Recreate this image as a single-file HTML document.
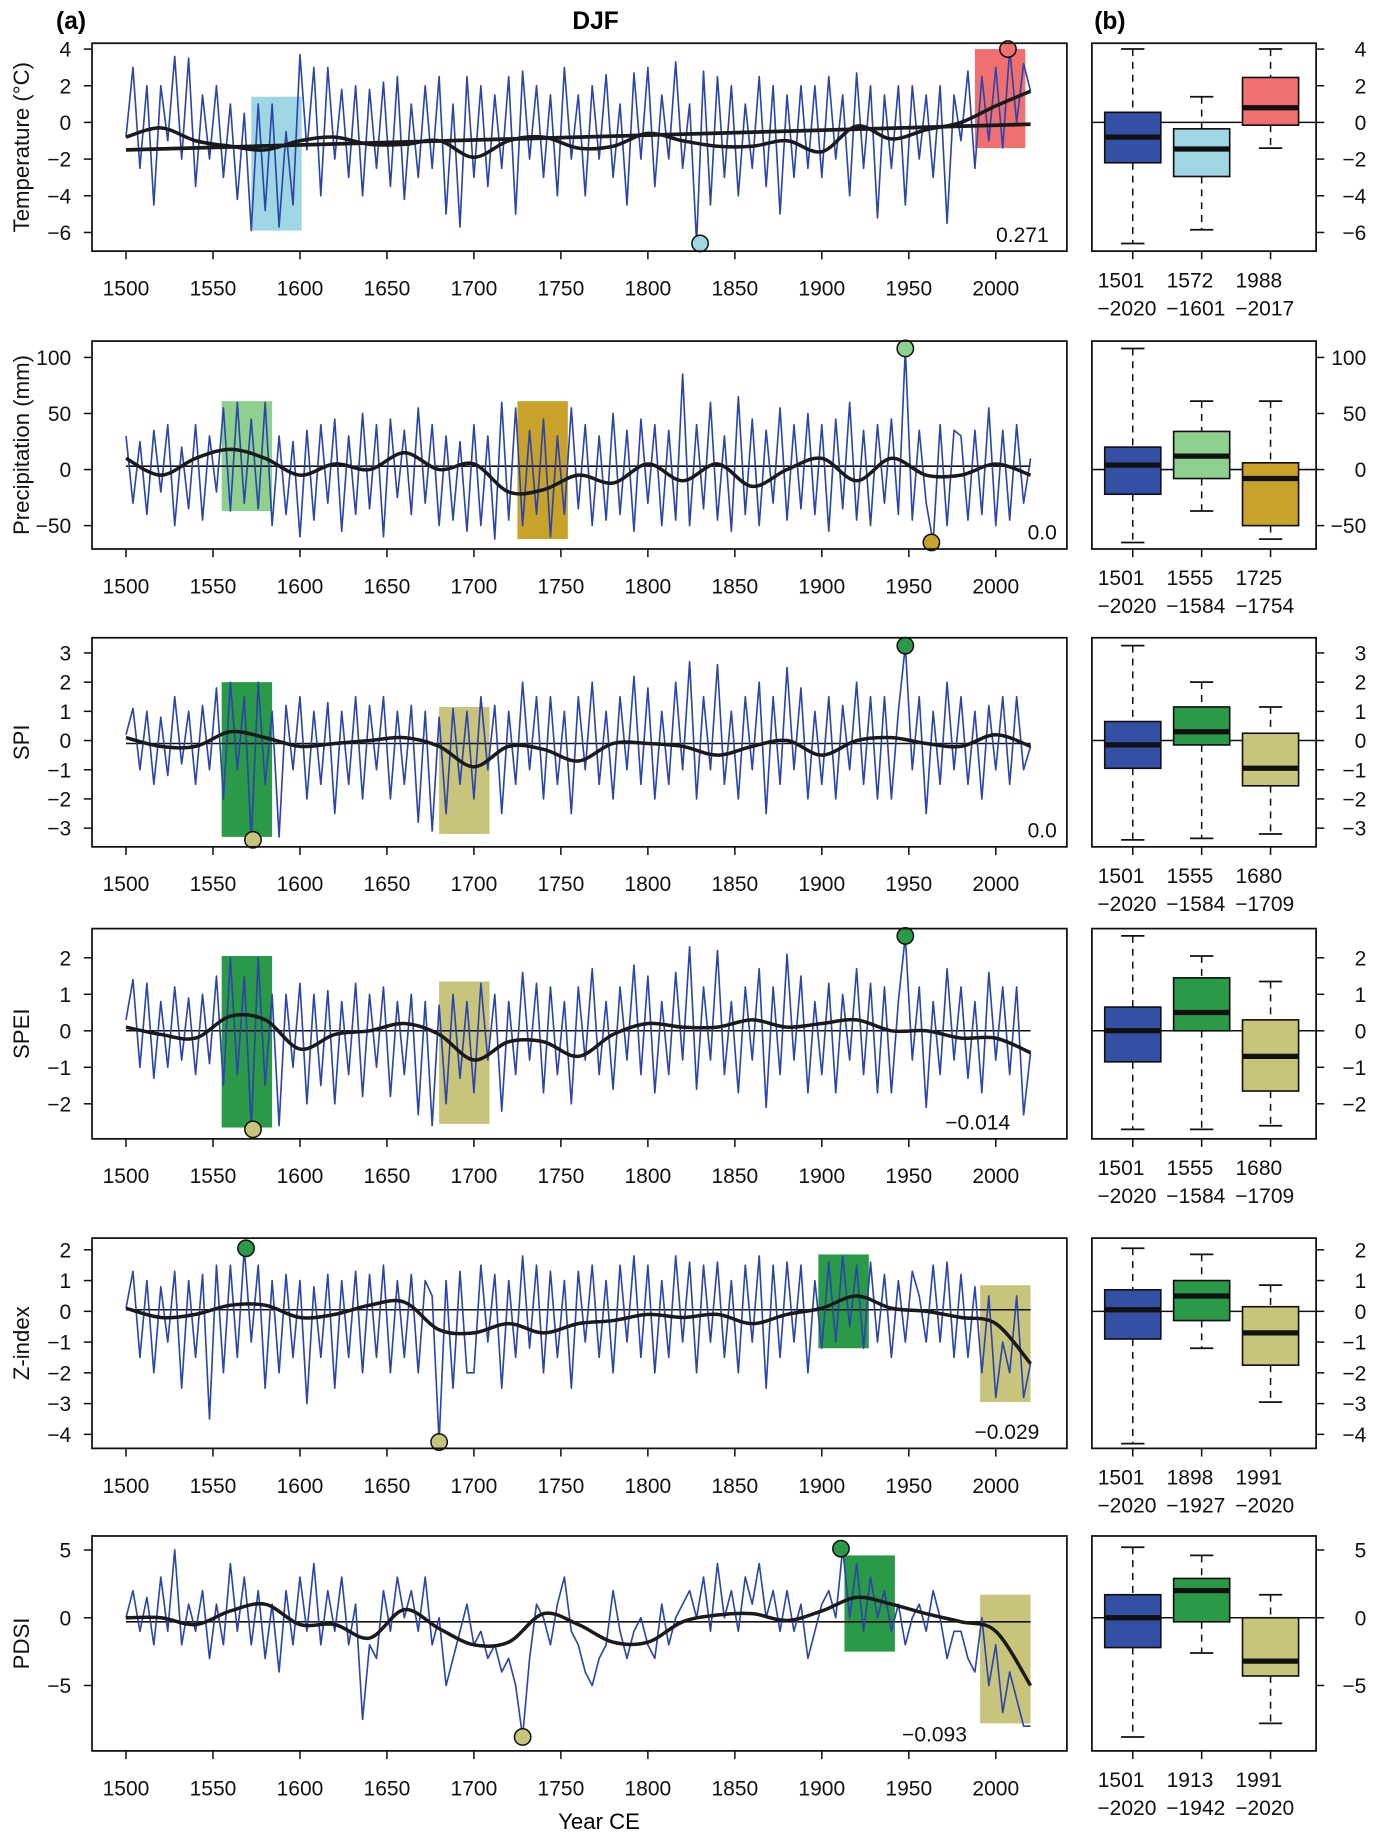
<!DOCTYPE html>
<html><head><meta charset="utf-8"><style>
html,body{margin:0;padding:0;background:#fff;}
svg{display:block;font-family:"Liberation Sans",Arial,sans-serif;}
</style></head><body>
<svg id="fig" xmlns="http://www.w3.org/2000/svg" width="1378" height="1835" viewBox="0 0 1180 1571" preserveAspectRatio="none">
<text x="48" y="25" font-size="21" font-weight="bold">(a)</text>
<text x="510" y="25" font-size="21" font-weight="bold" text-anchor="middle">DJF</text>
<text x="937" y="25" font-size="21" font-weight="bold">(b)</text>
<text x="513" y="1566" font-size="19" text-anchor="middle">Year CE</text>
</svg>
<script>
// ---------- data ----------
const years = [1500,1550,1600,1650,1700,1750,1800,1850,1900,1950,2000];
const tempSeries = [-0.8,3,-2.5,2,-4.5,2,-1,3.6,-2,3.5, -3.5,1.5,-2,2,-3,1,-4.2,0.5,-5.9,1, -4.8,1,-5.7,-0.5,-4.5,3.7,-1.5,3,-4,3, -2,1.8,-3,2,-4,1.8,-2.5,2.2,-3.5,2.5, -4.2,1,-3,2,-2.5,2.5,-5,1,-5.7,2.5, -3,2,-3.5,1.5,-2.5,2.5,-5,2.8,-2,2, -3,1.5,-4,3,-2,1.5,-4,2,-2,2.6, -3,1,-4.5,2.7,-2,3,-3.5,1.5,-2,3.3, -2.5,1,-6.6,2.8,-4.5,2.5,-3,2,-4,1, -2.5,2.5,-3.5,2,-5,1.5,-3,2,-2.5,2, -3,2.5,-2,1.5,-4,2.7,-2.5,2,-5.2,1.5, -2.5,2,-4.5,2,-2,1.5,-3,2,-5.5,1.5, -1,2.8,-2.5,2.5,-1,3,-1.4,4,0,3.2, 1.7];
const tempSmooth = [-0.8,-0.3,-1.0,-1.3,-1.5,-1.0,-0.8,-1.2,-1.2,-1.0,-1.9,-1.0,-0.8,-1.4,-1.3,-0.6,-1.0,-1.3,-1.3,-1.0,-1.6,-0.2,-0.9,-0.4,0.0,0.9,1.7];
const tempTrend = [-1.5,-0.1];
const precSeries = [30,-30,25,-40,35,-20,40,-50,20,-35, 40,-45,30,-20,55,-37,60,-30,45,-35, 60,-50,30,-40,25,-60,35,-45,40,-30, 45,-55,30,-40,50,-35,40,-60,45,-25, 35,-40,55,-30,40,-50,30,-45,25,-55, 40,-50,30,-62,60,-45,55,-50,35,-40, 45,-60,30,-40,55,-35,40,-50,30,-45, 50,-40,35,-55,45,-30,40,-50,35,-45, 85,-50,40,-35,60,-45,30,-55,65,-40, 45,-50,35,-30,55,-45,40,-35,50,-40, 40,-55,45,-35,60,-45,35,-50,40,-30, 45,-40,108,-45,35,-30,-65,40,-50,35, 30,-45,35,-40,55,-50,35,-45,40,-30, 10];
const precSmooth = [10,-5,10,18,10,-5,5,0,15,0,5,-20,-18,-5,-12,5,-10,5,-15,0,10,-10,10,-5,-5,5,-5];
const spiSeries = [0.2,1.1,-1,1,-1.5,0.8,-1.2,1.5,-0.8,1, -1.5,1.2,-1,1.8,-2,2,-1,1.5,-3.4,2, -1.5,1,-3.3,1.2,-1,1.5,-2,1,-1.5,1.3, -2.5,1,-1.5,1.5,-2,1.2,-1,1.5,-2,1, -1.5,1.2,-2.8,1,-3.1,0.8,-2.5,1.1,-1.5,1, -2,1.5,-1,1.2,-2.5,1,-1.5,2,-1,1.5, -2,1.5,-1.5,1,-2.5,1.5,-1,2,-1.5,1, -2,1.5,-1,2.2,-1.5,1.8,-2,1,-1.5,2, -1,2.7,-2,1.5,-1,2.6,-1.5,1,-2,1.5, -1,2,-2.5,1.5,-1.5,2.5,-1,1.8,-2,1, -1.5,1.5,-2,1.2,-1,2,-1.5,1.5,-2,1.5, -2,1,3.25,-1,1.5,-2.5,1,-1.5,2,-1, 1.5,-1.5,1,-2,1.2,-1,1.5,-1.5,1.5,-1, -0.2];
const spiSmooth = [0.1,-0.2,-0.2,0.3,0.1,-0.2,-0.1,0,0.1,-0.2,-0.9,-0.2,-0.3,-0.7,-0.1,-0.1,-0.2,-0.5,-0.2,0,-0.5,0,0.1,-0.1,-0.2,0.2,-0.2];
const speiSeries = [0.3,1.4,-1,1.3,-1.3,0.8,-1,1.2,-0.8,0.9, -1.2,1,-0.9,1.5,-1.5,2,-1.2,1.5,-2.7,2, -1.5,1,-2.6,1,-1,1.3,-2,1,-1.5,1.1, -2,0.8,-1.2,1.3,-1.8,1,-1,1.2,-1.8,0.8, -1.2,1,-2.3,0.8,-2.6,0.7,-2,1,-1.3,0.8, -1.7,1.3,-0.8,1,-2.2,0.8,-1.2,1.6,-0.8,1.3, -1.7,1.2,-1.2,0.8,-2,1.2,-0.8,1.7,-1.2,0.8, -1.6,1.2,-0.8,1.8,-1.2,1.5,-1.7,0.8,-1.2,1.6, -0.8,2.3,-1.6,1.2,-0.8,2.2,-1.2,0.8,-1.7,1.2, -0.8,1.7,-2.1,1.2,-1.2,2.1,-0.8,1.5,-1.7,0.8, -1.2,1.3,-1.7,1,-0.8,1.7,-1.2,1.3,-1.7,1.2, -1.7,0.8,2.6,-0.8,1.2,-2.1,0.8,-1.2,1.7,-0.8, 1.2,-1.3,0.8,-1.7,1.6,-0.8,1.2,-1.2,1.2,-2.3, -0.6];
const speiSmooth = [0.1,-0.1,-0.2,0.4,0.3,-0.5,-0.1,0,0.2,-0.1,-0.8,-0.3,-0.3,-0.7,-0.1,0.2,0.1,0.1,0.3,0.1,0.2,0.3,0,0,-0.2,-0.2,-0.6];
const zSeries = [0.1,1.3,-1.5,1,-2,0.8,-1,1.3,-2.5,1, -1.5,1.2,-3.5,1.5,-2,1.5,-1.5,2.05,-1,1.5, -2.5,1,-2,1.2,-1.5,1,-3,0.8,-1.5,1.2, -2.5,1,-1.5,1.3,-2,1.2,-1.5,1.5,-2,1, -1.5,1.2,-2,1,0.5,-4.25,1,-2.5,1.3,-2, -2,1.5,-1,1.2,-2.5,1,-1.5,1.8,-1.2,1.5, -2,1.3,-1.5,1,-2.5,1.3,-1,1.5,-1.5,1, -2,1.5,-1,1.8,-1.5,1.5,-2,1,-1.5,1.8, -1,1.6,-2,1.5,-1,1.6,-1.5,1,-2,1.5, -1,1.8,-2.5,1.5,-1.5,1.6,-1,1.5,-2,1, -1.2,1.6,-1,1.8,-0.5,1.5,-1.2,1.6,-1,1.2, -1.5,1,-1,1.3,0.5,-1,1.5,-1,1.6,-1.5, 1.2,-1.5,0.8,-2,0.5,-2.8,-1,-2,0.5,-2.8, -1.7];
const zSmooth = [0.1,-0.2,-0.1,0.2,0.2,-0.2,-0.1,0.2,0.3,-0.6,-0.7,-0.4,-0.7,-0.4,-0.3,-0.1,-0.2,-0.1,-0.4,-0.1,0.1,0.5,0.1,0,-0.2,-0.4,-1.7];
const pdsiSeries = [0,2,-1,1.5,-2,3,-1,5,-2,1, -1,2,-3,1,-2,4,-1,3,-2,2, -3,1,-4,2,-2,3,-1,4,-2,2, -1,3,-2,1,-7.5,-2,-3,2,-1,3, 0,2,-1,3,-2,0,-5,-3,-1,1, -2,-1,-3,-2,-4,-3,-5,-8.8,-3,1, 0,-2,1,3,-1,-2,-4,-5,-3,-2, 2,-1,-3,-1,0,-2,-3,1,-2,0, 1,2,0,3,-1,4,0,2,-1,3, 1,4,0,2,-1,2,-1,1,-3,-1, 1,2,0,5.1,0,4,-1,3,0,2, -1,1,-2,0,1,-1,2,0,-3,-1, -1,-3,-4,0,-5,-2,-7,-4,-6,-8, -8];
const pdsiSmooth = [0,0,-0.5,0.5,1.0,-0.5,-0.5,-1.5,0.6,-0.8,-2.0,-1.8,0.3,-0.5,-1.8,-1.8,-0.3,0.2,0.3,-0.2,0.5,1.5,1.0,0.3,-0.3,-1.0,-5.0];
// boxplot stats: [low whisker, q1, median, q3, high whisker]
const tempBoxes = [[-6.6,-2.2,-0.8,0.55,4.0],[-5.85,-2.95,-1.45,-0.35,1.4],[-1.4,-0.15,0.8,2.45,4.0]];
const precBoxes = [[-65,-22,4,20,108],[-37,-8,12,34,61],[-62,-50,-8,6,61]];
const spiBoxes = [[-3.4,-0.95,-0.15,0.65,3.25],[-3.35,-0.15,0.3,1.15,2.0],[-3.2,-1.55,-0.95,0.25,1.15]];
const speiBoxes = [[-2.7,-0.85,0,0.65,2.6],[-2.7,0,0.5,1.45,2.05],[-2.6,-1.65,-0.7,0.3,1.35]];
const zBoxes = [[-4.3,-0.9,0.05,0.7,2.05],[-1.2,-0.3,0.5,1.0,1.85],[-2.95,-1.75,-0.7,0.15,0.85]];
const pdsiBoxes = [[-8.8,-2.2,0,1.7,5.2],[-2.6,-0.3,2.0,2.9,4.6],[-7.8,-4.3,-3.2,0,1.7]];

// ---------- layout ----------
const X0=78.8, X1=913.6, B0=935, B1=1127;
const xs = yr => 107.9 + (yr-1500)*(852.7-107.9)/500;
const boxX = [970,1029,1088];
const NS="http://www.w3.org/2000/svg";
const svg=document.getElementById('fig');
function mk(tag,attrs,parent){const e=document.createElementNS(NS,tag);for(const k in attrs)e.setAttribute(k,attrs[k]);(parent||svg).appendChild(e);return e;}
function smoothPath(pts){let d=`M${pts[0][0]},${pts[0][1]}`;for(let i=0;i<pts.length-1;i++){const p0=pts[Math.max(0,i-1)],p1=pts[i],p2=pts[i+1],p3=pts[Math.min(pts.length-1,i+2)];const c1=[p1[0]+(p2[0]-p0[0])/6,p1[1]+(p2[1]-p0[1])/6],c2=[p2[0]-(p3[0]-p1[0])/6,p2[1]-(p3[1]-p1[1])/6];d+=`C${c1[0]},${c1[1]} ${c2[0]},${c2[1]} ${p2[0]},${p2[1]}`;}return d;}

const panels=[
 {key:'temperature',label:'Temperature (°C)',top:37,bot:215,v1:4,p1:42,v2:-6,p2:199,ticks:[-6,-4,-2,0,2,4],series:tempSeries,smooth:tempSmooth,trend:tempTrend,base:null,
  rects:[[1572,1601,1.4,-5.9,'#9ed6e4'],[1988,2017,4,-1.4,'#f07070']],circles:[[2007,4,'#f07070'],[1830,-6.6,'#9ed6e4']],
  boxes:tempBoxes,colors:['#3350a4','#9ed6e4','#f07070'],blabels:[['1501','−2020'],['1572','−1601'],['1988','−2017']],val:'0.271',valx:898},
 {key:'precipitation',label:'Precipitation (mm)',top:292,bot:470,v1:100,p1:306,v2:-50,p2:450,ticks:[-50,0,50,100],series:precSeries,smooth:precSmooth,base:3,
  rects:[[1555,1584,61,-37,'#8ed08e'],[1725,1754,61,-62,'#c9a22a']],circles:[[1948,108,'#8ed08e'],[1963,-65,'#c9a22a']],
  boxes:precBoxes,colors:['#3350a4','#8ed08e','#c9a22a'],blabels:[['1501','−2020'],['1555','−1584'],['1725','−1754']],val:'0.0',valx:905},
 {key:'spi',label:'SPI',top:546,bot:725,v1:3,p1:559,v2:-3,p2:709,ticks:[-3,-2,-1,0,1,2,3],series:spiSeries,smooth:spiSmooth,base:-0.1,
  rects:[[1555,1584,2.0,-3.3,'#2a9a48'],[1680,1709,1.15,-3.2,'#c9c47c']],circles:[[1948,3.25,'#2a9a48'],[1573,-3.4,'#c9c47c']],
  boxes:spiBoxes,colors:['#3350a4','#2a9a48','#c9c47c'],blabels:[['1501','−2020'],['1555','−1584'],['1680','−1709']],val:'0.0',valx:905},
 {key:'spei',label:'SPEI',top:795,bot:975,v1:2,p1:820,v2:-2,p2:945,ticks:[-2,-1,0,1,2],series:speiSeries,smooth:speiSmooth,base:0,
  rects:[[1555,1584,2.05,-2.65,'#2a9a48'],[1680,1709,1.35,-2.55,'#c9c47c']],circles:[[1948,2.6,'#2a9a48'],[1573,-2.7,'#c9c47c']],
  boxes:speiBoxes,colors:['#3350a4','#2a9a48','#c9c47c'],blabels:[['1501','−2020'],['1555','−1584'],['1680','−1709']],val:'−0.014',valx:865},
 {key:'z-index',label:'Z-index',top:1060,bot:1240,v1:2,p1:1070,v2:-4,p2:1228,ticks:[-4,-3,-2,-1,0,1,2],series:zSeries,smooth:zSmooth,base:0.05,
  rects:[[1898,1927,1.85,-1.2,'#2a9a48'],[1991,2020,0.85,-2.95,'#c9c47c']],circles:[[1569,2.05,'#2a9a48'],[1680,-4.25,'#c9c47c']],
  boxes:zBoxes,colors:['#3350a4','#2a9a48','#c9c47c'],blabels:[['1501','−2020'],['1898','−1927'],['1991','−2020']],val:'−0.029',valx:890},
 {key:'pdsi',label:'PDSI',top:1315,bot:1499,v1:5,p1:1327,v2:-5,p2:1443,ticks:[-5,0,5],series:pdsiSeries,smooth:pdsiSmooth,base:-0.3,
  rects:[[1913,1942,4.6,-2.5,'#2a9a48'],[1991,2020,1.7,-7.8,'#c9c47c']],circles:[[1911,5.1,'#2a9a48'],[1728,-8.8,'#c9c47c']],
  boxes:pdsiBoxes,colors:['#3350a4','#2a9a48','#c9c47c'],blabels:[['1501','−2020'],['1913','−1942'],['1991','−2020']],val:'−0.093',valx:828}
];
const fmt=v=>(v<0?'−'+Math.abs(v):''+v);

panels.forEach(P=>{
  const ys=v=>P.p1+(v-P.v1)*(P.p2-P.p1)/(P.v2-P.v1);
  const g=mk('g',{});
  
  
  // rects
  P.rects.forEach((r,i)=>{const e=mk('rect',{x:xs(r[0]),y:ys(r[2]),width:xs(r[1])-xs(r[0]),height:ys(r[3])-ys(r[2]),fill:r[4]},g);
    
    });
  // base line
  if(P.base!==null){const e=mk('line',{x1:xs(1500),x2:xs(2020),y1:ys(P.base),y2:ys(P.base),stroke:'#111','stroke-width':1.3},g);
    
    }
  // series
  const n=P.series.length;
  const pts=P.series.map((v,i)=>[xs(1500+i*4>2020?2020:1500+i*4),ys(v)]);
  const sl=mk('polyline',{points:pts.map(p=>p.join(',')).join(' '),fill:'none',stroke:'#2b45ac','stroke-width':1.4,'stroke-linejoin':'round'},g);
  
  
  // trend
  if(P.trend){const e=mk('line',{x1:xs(1500),x2:xs(2020),y1:ys(P.trend[0]),y2:ys(P.trend[1]),stroke:'#1a1a1a','stroke-width':3.2},g);
    
    }
  // smooth
  const sp=P.smooth.map((v,i)=>[xs(1500+i*20),ys(v)]);
  const sm=mk('path',{d:smoothPath(sp),fill:'none',stroke:'#1a1a1a','stroke-width':3},g);
  
  
  // circles
  P.circles.forEach((c,i)=>{let cy=ys(c[1]);const e=mk('circle',{cx:xs(c[0]),cy:cy,r:7,fill:c[2],stroke:'#111','stroke-width':1.3},g);
    
    });
  // frame
  const fr=mk('rect',{x:X0,y:P.top,width:X1-X0,height:P.bot-P.top,fill:'none',stroke:'#111','stroke-width':1.5},g);
  
  
  // y ticks left
  P.ticks.forEach(t=>{mk('line',{x1:X0-7,x2:X0,y1:ys(t),y2:ys(t),stroke:'#111','stroke-width':1.3},g);
    const tx=mk('text',{x:61,y:ys(t)+6.5,'font-size':18,'text-anchor':'end',fill:'#111'},g);tx.textContent=fmt(t);
    
    });
  // y title
  const cy=(P.top+P.bot)/2;
  const yt=mk('text',{x:0,y:0,'font-size':19,'text-anchor':'middle',transform:`translate(25,${cy}) rotate(-90)`,fill:'#111'},g);yt.textContent=P.label;
  
  
  // x ticks
  years.forEach(y=>{mk('line',{x1:xs(y),x2:xs(y),y1:P.bot,y2:P.bot+7,stroke:'#111','stroke-width':1.3},g);
    const tx=mk('text',{x:xs(y),y:P.bot+38,'font-size':18,'text-anchor':'middle',fill:'#111'},g);tx.textContent=y;
    
    });
  // value text
  const vt=mk('text',{x:P.valx,y:P.bot-8,'font-size':18,'text-anchor':'end',fill:'#111'},g);vt.textContent=P.val;
  
  

  // ----- box panel -----
  const bg=mk('g',{});
  
  
  mk('line',{x1:B0,x2:B1,y1:ys(0),y2:ys(0),stroke:'#111','stroke-width':1.3},bg);
  P.boxes.forEach((b,i)=>{
    const cx=boxX[i],w=48;
    mk('line',{x1:cx,x2:cx,y1:ys(b[4]),y2:ys(b[3]),stroke:'#111','stroke-width':1.3,'stroke-dasharray':'6,5'},bg);
    mk('line',{x1:cx,x2:cx,y1:ys(b[1]),y2:ys(b[0]),stroke:'#111','stroke-width':1.3,'stroke-dasharray':'6,5'},bg);
    mk('line',{x1:cx-10,x2:cx+10,y1:ys(b[4]),y2:ys(b[4]),stroke:'#111','stroke-width':1.5},bg);
    mk('line',{x1:cx-10,x2:cx+10,y1:ys(b[0]),y2:ys(b[0]),stroke:'#111','stroke-width':1.5},bg);
    const r=mk('rect',{x:cx-w/2,y:ys(b[3]),width:w,height:ys(b[1])-ys(b[3]),fill:P.colors[i],stroke:'#111','stroke-width':1.4},bg);
    
    
    mk('line',{x1:cx-w/2,x2:cx+w/2,y1:ys(b[2]),y2:ys(b[2]),stroke:'#111','stroke-width':4.5},bg);
    mk('line',{x1:cx,x2:cx,y1:P.bot,y2:P.bot+7,stroke:'#111','stroke-width':1.3},bg);
    const t1=mk('text',{x:cx-10,y:P.bot+31,'font-size':18,'text-anchor':'middle',fill:'#111'},bg);t1.textContent=P.blabels[i][0];
    
    
    const t2=mk('text',{x:cx-5,y:P.bot+55,'font-size':18,'text-anchor':'middle',fill:'#111'},bg);t2.textContent=P.blabels[i][1];
    
    
  });
  mk('rect',{x:B0,y:P.top,width:B1-B0,height:P.bot-P.top,fill:'none',stroke:'#111','stroke-width':1.5},bg);
  P.ticks.forEach(t=>{mk('line',{x1:B1,x2:B1+7,y1:ys(t),y2:ys(t),stroke:'#111','stroke-width':1.3},bg);
    const tx=mk('text',{x:1170,y:ys(t)+6.5,'font-size':18,'text-anchor':'end',fill:'#111'},bg);tx.textContent=fmt(t);
    
    });
});
</script>
</body></html>
